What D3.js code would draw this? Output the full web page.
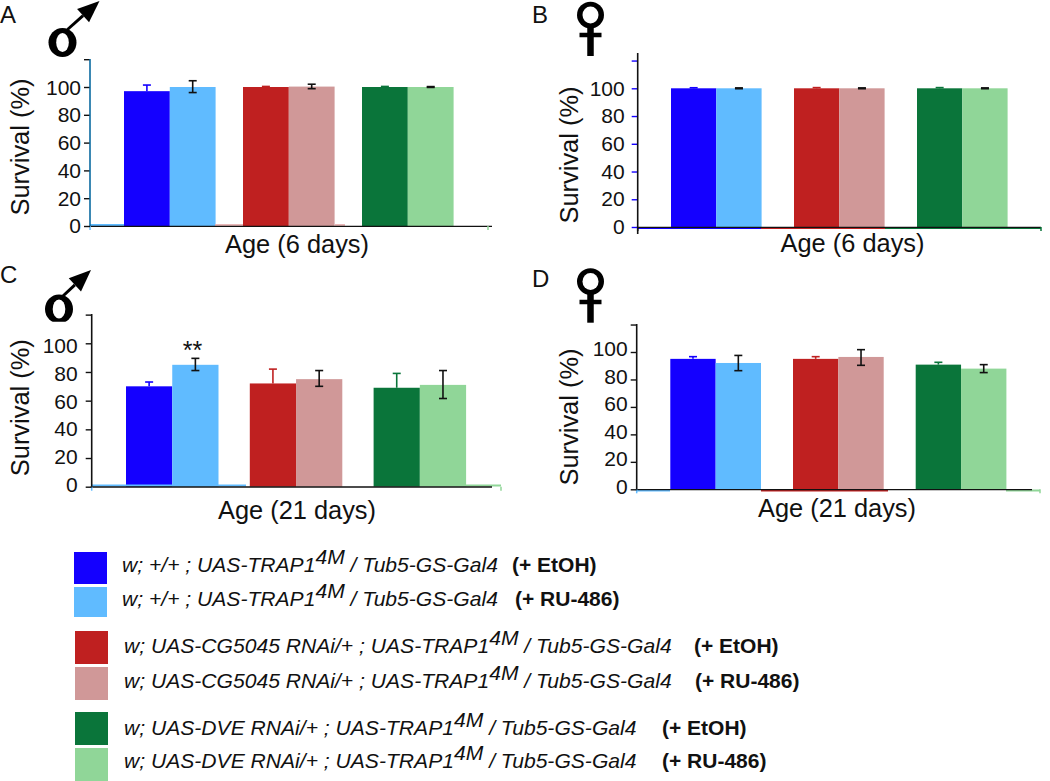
<!DOCTYPE html>
<html><head><meta charset="utf-8">
<script src="https://cdn.jsdelivr.net/npm/d3@7/dist/d3.min.js"></script>
<style>html,body{margin:0;padding:0;background:#fff}svg{display:block}text{font-family:"Liberation Sans",Arial,sans-serif;fill:#111}</style>
</head><body><div id="c"></div>
<script>
// ---- data ----
const groups = ["control", "CG5045 RNAi", "DVE RNAi"];
const treatments = ["EtOH", "RU-486"];
const tickValues = [0, 20, 40, 60, 80, 100, 120];
const tickLabels = ["0", "20", "40", "60", "80", "100", ""];
const valuesA = [[97, 100], [100, 100.3], [100, 100]];
const upperA  = [[101.4, 104.5], [100.4, 102], [100.4, 100.3]];
const lowerA  = [[null, 96], [null, 98.8], [null, 99.7]];
const valuesB = [[100, 100], [100, 100], [100, 100]];
const upperB  = [[100.4, 100.3], [100.5, 100.3], [100.5, 100.3]];
const lowerB  = [[null, 99.7], [null, 99.7], [null, 99.7]];
const valuesC = [[70, 85], [72, 75], [69, 71]];
const upperC  = [[73, 89.5], [82, 81], [79, 81]];
const lowerC  = [[null, 81], [null, 70], [null, 61.5]];
const valuesD = [[95, 92], [95, 96.4], [90.8, 87.9]];
const upperD  = [[96.6, 97.5], [96.6, 101.7], [92.5, 90.8]];
const lowerD  = [[null, 86.4], [null, 90.3], [null, 85]];
const colors = [["#1400ff", "#60bbff"], ["#bf2020", "#d09898"], ["#0a753a", "#90d698"]];
const legendGenotype = [
  ["w; +/+ ; UAS-TRAP1", " / Tub5-GS-Gal4"],
  ["w; +/+ ; UAS-TRAP1", " / Tub5-GS-Gal4"],
  ["w; UAS-CG5045 RNAi/+ ; UAS-TRAP1", " / Tub5-GS-Gal4"],
  ["w; UAS-CG5045 RNAi/+ ; UAS-TRAP1", " / Tub5-GS-Gal4"],
  ["w; UAS-DVE RNAi/+ ; UAS-TRAP1", " / Tub5-GS-Gal4"],
  ["w; UAS-DVE RNAi/+ ; UAS-TRAP1", " / Tub5-GS-Gal4"]];
const legendTreatment = ["(+ EtOH)", "(+ RU-486)", "(+ EtOH)", "(+ RU-486)", "(+ EtOH)", "(+ RU-486)"];

// ---- layout ----
const panels = [
 {letter:"A", lx:0, ly:23, v:valuesA, u:upperA, l:lowerA, title:"Age (6 days)",
  ax:90, y0:226, y100:87, lab0:226, lab100:87.5, axisTop:59, xEnd:492, start:124, step:119, gw:91.6, pad:3,
  sx:29, sy:147, tx:297, ty:252.5, axisCol:"#0a6aa0", stripDy:-1,
  strips:[[90,124,"#60bbff"],[215,243,"#e8b0b0"],[335,345,"#e8b0b0"]], endCol:"#90d698", endX:488, startCol:"#60bbff"},
 {letter:"B", lx:532, ly:23, v:valuesB, u:upperB, l:lowerB, title:"Age (6 days)",
  ax:637.7, y0:227, y100:88.3, lab0:226.7, lab100:88.3, axisTop:53, xEnd:1041, start:671, step:123, gw:90.6, pad:7,
  sx:578, sy:155, tx:852.5, ty:252, axisCol:"#111",tickCol:"#1400ff", stripDy:1.2,
  strips:[[638,761,"#1400ff"],[761,885,"#bf2020"],[885,1041,"#0a753a"]], endCol:"#0a753a", endX:1041, startCol:"#111"},
 {letter:"C", lx:0, ly:283, v:valuesC, u:upperC, l:lowerC, title:"Age (21 days)",
  ax:91.7, y0:486.7, y100:343.3, lab0:484.5, lab100:346, axisTop:314, xEnd:492, start:126, step:123.8, gw:92.5, pad:8,
  sx:29, sy:407.7, tx:297, ty:519, axisCol:"#111", stripDy:-1.2,
  strips:[[92,246,"#60bbff"],[466,501,"#90d698"]], endCol:"#90d698", endX:501, startCol:"#60bbff"},
 {letter:"D", lx:532, ly:287, v:valuesD, u:upperD, l:lowerD, title:"Age (21 days)",
  ax:636.7, y0:489.3, y100:352, lab0:486.7, lab100:349, axisTop:324, xEnd:1032, start:670.3, step:122.7, gw:90.7, pad:3,
  sx:578, sy:417, tx:837, ty:516.7, axisCol:"#111", stripDy:1.2,
  strips:[[637,670,"#60bbff"],[761,888,"#bf2020"],[1006,1040,"#90d698"]], endCol:"#90d698", endX:1040, startCol:"#60bbff"}
];
const legendRows = [
 {sx:74,sy:552,sh:32,tx:122,by:572,bx:512},{sx:74,sy:587,sh:30,tx:122,by:606,bx:515},
 {sx:75,sy:631,sh:33,tx:124,by:653,bx:694},{sx:75,sy:667,sh:33,tx:124,by:688,bx:695},
 {sx:75,sy:712,sh:33,tx:124,by:735,bx:662},{sx:75,sy:748,sh:33,tx:124,by:768,bx:662}];

const svg = d3.select("#c").append("svg").attr("width",1050).attr("height",781);

panels.forEach(p=>{
  const g = svg.append("g");
  const y = d3.scaleLinear().domain([0,100]).range([p.y0,p.y100]);
  const labelY = d3.scaleLinear().domain([0,100]).range([p.lab0,p.lab100]);
  const fx = d3.scaleBand().domain(groups).range([p.start,p.start+3*p.step]);
  const ix = d3.scaleBand().domain(treatments).range([0,p.gw]);
  g.append("text").attr("x",p.lx).attr("y",p.ly).attr("font-size",24).text(p.letter);

  groups.forEach((gr,i)=>treatments.forEach((t,j)=>{
    g.append("rect").attr("x",fx(gr)+ix(t)).attr("width",ix.bandwidth())
      .attr("y",y(p.v[i][j])).attr("height",y(0)-y(p.v[i][j])).attr("fill",colors[i][j]);
  }));
  p.strips.forEach(s=>g.append("line").attr("x1",s[0]).attr("x2",s[1]).attr("y1",y(0)+p.stripDy).attr("y2",y(0)+p.stripDy)
     .attr("stroke",s[2]).attr("stroke-width",1.8));
  groups.forEach((gr,i)=>treatments.forEach((t,j)=>{
    const cx = fx(gr)+ix(t)+ix.bandwidth()/2, col = j===0?colors[i][0]:"#111";
    const hi=p.u[i][j], lo=p.l[i][j];
    const bottom = lo===null?p.v[i][j]:lo;
    g.append("line").attr("x1",cx).attr("x2",cx).attr("y1",y(hi)).attr("y2",y(bottom)).attr("stroke",col).attr("stroke-width",1.6);
    g.append("line").attr("x1",cx-4).attr("x2",cx+4).attr("y1",y(hi)).attr("y2",y(hi)).attr("stroke",col).attr("stroke-width",1.6);
    if(lo!==null) g.append("line").attr("x1",cx-4).attr("x2",cx+4).attr("y1",y(lo)).attr("y2",y(lo)).attr("stroke",col).attr("stroke-width",1.6);
  }));
  g.append("line").attr("x1",p.ax-1).attr("x2",p.xEnd).attr("y1",y(0)+.3).attr("y2",y(0)+.3).attr("stroke","#111").attr("stroke-width",1.3);
  g.append("line").attr("x1",p.ax).attr("x2",p.ax).attr("y1",y(0)).attr("y2",y(0)+4).attr("stroke",p.startCol).attr("stroke-width",1.5);
  g.append("line").attr("x1",p.endX).attr("x2",p.endX).attr("y1",y(0)).attr("y2",y(0)+4).attr("stroke",p.endCol).attr("stroke-width",1.5);
  const ax = d3.axisLeft(y).tickValues(tickValues).tickSize(6).tickPadding(p.pad)
     .tickFormat((d,i)=>tickLabels[i]);
  const ag = g.append("g").attr("transform",`translate(${p.ax},0)`).call(ax);
  ag.select(".domain").remove();
  ag.selectAll(".tick line").attr("stroke",p.tickCol||"#111").attr("stroke-width",1.4);
  ag.selectAll(".tick text").attr("font-size",21).attr("font-family",'"Liberation Sans",Arial,sans-serif').attr("fill","#111")
    .attr("y",d=>labelY(d)-y(d));
  g.append("line").attr("x1",p.ax).attr("x2",p.ax).attr("y1",p.axisTop).attr("y2",y(0)+(p.letter==="B"?7:0)).attr("stroke",p.axisCol).attr("stroke-width",1.6);
  g.append("text").attr("transform",`translate(${p.sx},${p.sy}) rotate(-90)`).attr("text-anchor","middle").attr("font-size",25)
    .attr("textLength",137).attr("lengthAdjust","spacingAndGlyphs").text("Survival (%)");
  g.append("text").attr("x",p.tx).attr("y",p.ty).attr("text-anchor","middle").attr("font-size",25)
    .attr("textLength",p.title.length>12?158:144).attr("lengthAdjust","spacingAndGlyphs").text(p.title);
});

svg.append("text").attr("x",192.6).attr("y",359).attr("text-anchor","middle").attr("font-size",25).text("**");

function male(cx,cy,ry,clipBottom,ax1,ay1,ax2,ay2){
  const s = svg.append("g");
  if(clipBottom){
    const id="clip"+cx;
    svg.append("clipPath").attr("id",id).append("rect").attr("x",cx-20).attr("y",cy-20).attr("width",40).attr("height",clipBottom-cy+20);
    s.attr("clip-path",`url(#${id})`);
  }
  s.append("ellipse").attr("cx",cx).attr("cy",cy).attr("rx",14).attr("ry",ry).attr("fill","#000");
  s.append("ellipse").attr("cx",cx).attr("cy",cy).attr("rx",6.3).attr("ry",ry-5).attr("fill","#fff");
  const a=Math.atan2(ay2-ay1,ax2-ax1), h=22, w=9;
  const ux=Math.cos(a),uy=Math.sin(a),bx=ax2-ux*h,by=ay2-uy*h;
  svg.append("line").attr("x1",ax1).attr("y1",ay1).attr("x2",bx).attr("y2",by).attr("stroke","#000").attr("stroke-width",3);
  svg.append("path").attr("fill","#000")
    .attr("d",`M${ax2},${ay2}L${bx-uy*w},${by+ux*w}L${bx+uy*w},${by-ux*w}Z`);
}
function female(cx,cy,stemEnd,barY){
  const s=svg.append("g");
  s.append("ellipse").attr("cx",cx).attr("cy",cy).attr("rx",13.5).attr("ry",13.3).attr("fill","#000");
  s.append("ellipse").attr("cx",cx).attr("cy",cy).attr("rx",8).attr("ry",8.5).attr("fill","#fff");
  s.append("line").attr("x1",cx).attr("x2",cx).attr("y1",cy+12).attr("y2",stemEnd).attr("stroke","#000").attr("stroke-width",6.5);
  s.append("line").attr("x1",cx-11).attr("x2",cx+11).attr("y1",barY).attr("y2",barY).attr("stroke","#000").attr("stroke-width",4.5);
}
male(62.5,42.5,14.5,null,67.5,29.5,99.5,1);
male(59,309,14.5,321.8,63,296,91,270);
female(590.5,15,56,35);
female(590.5,281.5,322.7,302);

legendRows.forEach((r,i)=>{
  const c = colors[Math.floor(i/2)][i%2];
  svg.append("rect").attr("x",r.sx).attr("y",r.sy).attr("width",33).attr("height",r.sh).attr("fill",c);
  const t = svg.append("text").attr("x",r.tx).attr("y",r.by).attr("font-size",21.1).attr("font-style","italic");
  t.append("tspan").text(legendGenotype[i][0]);
  t.append("tspan").attr("dy",-8).text("4M");
  t.append("tspan").attr("dy",8).text(legendGenotype[i][1]);
  svg.append("text").attr("x",r.bx).attr("y",r.by).attr("font-size",21).attr("font-weight","bold").text(legendTreatment[i]);
});
</script></body></html>
